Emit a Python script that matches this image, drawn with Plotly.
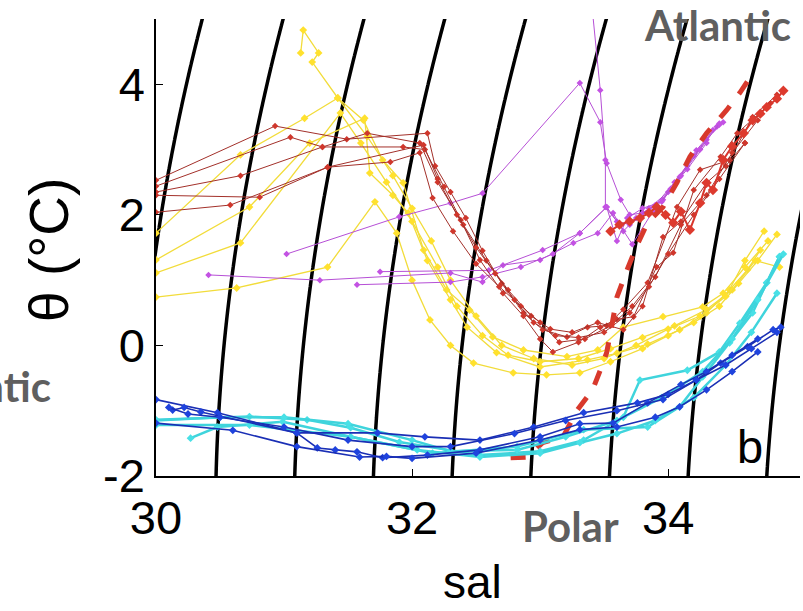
import numpy as np
import plotly.graph_objects as go

# ---------------- data ----------------
# dark red profiles (salinity, potential temperature)
RED1_S = [30.0, 30.93, 31.49, 32.12, 32.18, 32.3, 32.42, 32.55, 32.7, 32.87, 33.02, 33.21, 33.37, 33.52, 33.65, 33.84, 34.07, 34.25, 34.48, 34.66, 34.85]
RED1_T = [2.53, 3.36, 3.16, 3.25, 2.75, 2.35, 1.95, 1.45, 0.95, 0.5, 0.24, 0.13, 0.28, 0.3, 0.55, 0.96, 2.12, 2.69, 2.84, 3.5, 3.84]
RED2_S = [30.0, 31.05, 31.3, 31.65, 32.06, 32.2, 32.38, 32.53, 32.71, 32.87, 33.0, 33.1, 33.3, 33.47, 33.6, 33.73, 33.91, 34.04, 34.2, 34.41, 34.54, 34.8]
RED2_T = [2.44, 3.19, 3.04, 3.25, 3.1, 2.5, 1.92, 1.31, 0.8, 0.45, 0.1, -0.1, 0.05, 0.28, 0.4, 0.44, 1.2, 1.42, 2.38, 2.89, 3.25, 3.71]
RED3_S = [30.0, 30.66, 31.3, 31.93, 32.1, 32.25, 32.4, 32.58, 32.75, 32.93, 33.08, 33.25, 33.45, 33.65, 33.8, 33.96, 34.1, 34.3, 34.45, 34.6]
RED3_T = [2.35, 2.6, 3.04, 3.04, 3.0, 2.43, 1.85, 1.3, 0.85, 0.45, 0.25, 0.2, 0.35, 0.24, 0.6, 1.66, 1.9, 2.49, 2.75, 3.1]
RED4_S = [30.0, 30.81, 31.34, 31.83, 32.06, 32.16, 32.32, 32.5, 32.68, 32.85, 33.0, 33.15, 33.35, 33.55, 33.72, 33.9, 34.1, 34.3, 34.5, 34.7]
RED4_T = [2.3, 2.27, 2.73, 2.81, 2.95, 2.26, 1.75, 1.25, 0.9, 0.6, 0.35, 0.05, 0.1, 0.3, 0.6, 1.05, 1.85, 2.3, 2.95, 3.45]
RED5_S = [30.0, 30.58, 31.34, 32.09, 32.2, 32.35, 32.5, 32.65, 32.8, 32.95, 33.12, 33.3, 33.5, 33.7, 33.85, 34.0, 34.2, 34.4, 34.6]
RED5_T = [2.04, 2.15, 2.73, 3.07, 2.55, 2.0, 1.5, 1.1, 0.7, 0.35, 0.15, 0.12, 0.2, 0.5, 0.9, 1.4, 2.0, 2.55, 3.1]
# bright red dense profile (right branch)
REDB_S = [33.55, 33.62, 33.7, 33.78, 33.85, 33.91, 33.98, 34.04, 34.1, 34.17, 34.25, 34.3, 34.35, 34.43, 34.5, 34.59, 34.66, 34.72, 34.77, 34.85, 34.9]
REDB_T = [1.75, 1.85, 1.9, 1.95, 2.03, 2.12, 2.0, 1.88, 2.05, 1.77, 2.18, 2.49, 2.38, 2.84, 3.05, 3.25, 3.45, 3.55, 3.65, 3.78, 3.9]
# bright red dashed profile
REDD_S = [32.77, 32.9, 33.02, 33.18, 33.29, 33.41, 33.47, 33.52, 33.56, 33.6, 33.68, 33.76, 33.84, 33.96, 34.07, 34.17, 34.3, 34.46, 34.56, 34.68]
REDD_T = [-1.72, -1.71, -1.49, -1.4, -0.99, -0.68, -0.38, -0.11, 0.3, 0.74, 1.16, 1.55, 1.88, 2.12, 2.5, 2.89, 3.25, 3.61, 3.87, 4.22]

# yellow profiles
YEL1_S = [30.0, 30.66, 31.16, 31.42, 31.62, 31.77, 31.93, 32.09, 32.27, 32.45, 32.63, 32.87, 33.21, 33.45, 33.65, 33.96, 34.27, 34.43, 34.6, 34.78]
YEL1_T = [1.72, 2.92, 3.48, 3.79, 3.45, 2.84, 2.49, 1.46, 0.85, 0.54, 0.13, -0.07, -0.17, -0.07, 0.28, 0.44, 0.59, 0.8, 1.2, 1.6]
YEL2_S = [30.0, 30.73, 31.2, 31.63, 31.67, 31.85, 31.97, 32.12, 32.3, 32.43, 32.66, 33.0, 33.37, 33.6, 33.84, 34.09, 34.3, 34.48, 34.62, 34.72]
YEL2_T = [1.31, 2.12, 3.1, 3.48, 2.64, 2.3, 2.03, 1.3, 0.7, 0.28, -0.11, -0.33, -0.22, -0.12, 0.02, 0.24, 0.5, 0.85, 1.16, 1.46]
YEL3_S = [30.0, 30.66, 31.44, 31.6, 31.8, 32.0, 32.2, 32.35, 32.55, 32.75, 33.0, 33.3, 33.55, 33.8, 34.05, 34.3, 34.5, 34.68, 34.87]
YEL3_T = [1.11, 1.57, 3.56, 3.1, 2.5, 1.9, 1.2, 0.6, 0.15, -0.15, -0.25, -0.2, -0.05, 0.12, 0.3, 0.55, 0.85, 1.3, 1.2]
YEL4_S = [30.0, 30.63, 31.34, 31.71, 31.88, 32.0, 32.14, 32.3, 32.48, 32.79, 33.05, 33.31, 33.55, 33.8, 34.0, 34.2, 34.4, 34.55, 34.7, 34.85]
YEL4_T = [0.74, 0.88, 1.2, 2.2, 1.72, 1.0, 0.39, 0.0, -0.27, -0.42, -0.45, -0.42, -0.25, -0.05, 0.15, 0.35, 0.6, 0.95, 1.3, 1.7]
YEL5_S = [31.13, 31.15, 31.27, 31.22, 31.42, 31.65, 31.85, 32.0, 32.15, 32.3, 32.5, 32.7, 32.95, 33.25, 33.5, 33.75, 34.0, 34.25, 34.45, 34.6, 34.75]
YEL5_T = [4.48, 4.83, 4.48, 4.34, 3.79, 3.2, 2.6, 2.1, 1.6, 1.0, 0.45, 0.0, -0.2, -0.3, -0.2, 0.0, 0.25, 0.45, 0.75, 1.3, 1.75]

# magenta profiles
MAG1_S = [31.02, 31.9, 32.3, 32.55, 33.31, 33.47, 33.52, 33.63, 33.7, 33.8, 33.96, 34.09, 34.22, 34.38, 34.43]
MAG1_T = [1.40, 1.97, 2.18, 2.33, 4.02, 3.42, 2.79, 2.23, 2.0, 2.03, 2.23, 2.58, 2.99, 3.35, 3.42]
MAG2_S = [33.41, 33.47, 33.51, 33.51, 33.6, 33.7, 33.85, 34.0, 34.15, 34.3, 34.4]
MAG2_T = [5.1, 3.91, 2.84, 2.12, 1.9, 1.85, 2.1, 2.35, 2.75, 3.15, 3.38]
MAG3_S = [30.41, 31.28, 32.3, 32.55, 32.71, 33.0, 33.26, 33.45, 33.57, 33.65, 33.75, 33.9, 34.05, 34.2, 34.35]
MAG3_T = [1.08, 1.0, 1.11, 0.97, 1.23, 1.31, 1.57, 1.72, 2.03, 1.75, 1.95, 2.15, 2.5, 2.9, 3.3]
MAG4_S = [31.57, 32.3, 32.55, 32.85, 33.1, 33.31, 33.52, 33.62, 33.72, 33.88, 34.02, 34.15, 34.3]
MAG4_T = [0.93, 0.97, 1.05, 1.2, 1.4, 1.72, 2.12, 1.85, 1.55, 2.05, 2.4, 2.7, 3.1]
MAG5_S = [31.75, 32.6, 33.02, 33.31, 33.52, 33.6, 33.68, 33.8, 33.95, 34.1, 34.25, 34.4]
MAG5_T = [1.13, 1.15, 1.46, 1.72, 2.12, 1.6, 1.95, 2.1, 2.2, 2.6, 3.0, 3.4]

# blue profiles
BLU1_S = [30.0, 30.48, 31.1, 31.73, 32.1, 32.53, 32.95, 33.34, 33.76, 34.0, 34.22, 34.41, 34.62, 34.82, 34.88]
BLU1_T = [-0.83, -1.03, -1.34, -1.34, -1.4, -1.45, -1.25, -1.03, -0.88, -0.75, -0.53, -0.27, -0.02, 0.24, 0.28]
BLU2_S = [30.13, 30.22, 30.35, 31.1, 31.26, 31.4, 31.57, 31.77, 32.12, 32.53, 33.0, 33.31, 33.57, 33.84, 34.1, 34.3, 34.5, 34.7]
BLU2_T = [-0.99, -0.95, -1.02, -1.34, -1.57, -1.6, -1.63, -1.72, -1.68, -1.6, -1.4, -1.2, -1.19, -0.88, -0.6, -0.4, -0.15, 0.1]
BLU3_S = [30.0, 30.6, 31.1, 31.59, 31.8, 32.0, 32.5, 33.0, 33.31, 33.6, 33.9, 34.09, 34.3, 34.5, 34.7]
BLU3_T = [-1.19, -1.3, -1.55, -1.71, -1.7, -1.73, -1.65, -1.45, -1.29, -1.25, -1.1, -0.94, -0.68, -0.4, -0.1]
BLU4_S = [30.1, 30.25, 30.5, 31.0, 31.5, 32.0, 32.3, 32.8, 33.2, 33.6, 33.96, 34.22, 34.45, 34.65, 34.85]
BLU4_T = [-0.95, -1.05, -1.1, -1.25, -1.45, -1.55, -1.55, -1.35, -1.15, -1.0, -0.83, -0.53, -0.3, -0.05, 0.2]

# cyan profiles
CYA1_S = [30.0, 30.73, 31.18, 31.52, 31.9, 32.53, 33.0, 33.34, 33.65, 33.78, 34.15, 34.4, 34.56, 34.77, 34.87]
CYA1_T = [-1.14, -1.09, -1.14, -1.26, -1.48, -1.68, -1.62, -1.45, -1.1, -0.53, -0.38, -0.1, 0.34, 0.96, 1.36]
CYA2_S = [30.27, 30.48, 30.99, 31.52, 32.16, 32.82, 33.34, 33.84, 34.09, 34.27, 34.48, 34.66, 34.77, 34.87]
CYA2_T = [-1.42, -1.25, -1.17, -1.4, -1.65, -1.55, -1.29, -1.25, -0.94, -0.48, 0.04, 0.5, 0.96, 1.36]
CYA3_S = [30.0, 30.73, 31.52, 32.04, 32.53, 33.0, 33.31, 33.6, 33.9, 34.2, 34.45, 34.65, 34.85]
CYA3_T = [-1.22, -1.22, -1.4, -1.6, -1.71, -1.65, -1.49, -1.35, -1.15, -0.8, -0.3, 0.2, 0.8]
CYA4_S = [30.0, 30.5, 31.0, 31.5, 32.0, 32.3, 32.82, 33.2, 33.6, 33.95, 34.27, 34.5, 34.7, 34.9]
CYA4_T = [-1.15, -1.1, -1.1, -1.2, -1.45, -1.62, -1.6, -1.4, -1.15, -0.8, -0.4, 0.1, 0.7, 1.4]

X_TICKS = [30, 32, 34]
Y_TICKS = [-2, 0, 2, 4]
SIGMA_LEVELS = dict(start=24.0, end=29.0, size=0.5)

# ---------------- density field (UNESCO EOS-80, p = 0) ----------------
s_grid = np.linspace(29.5, 35.5, 241)
t_grid = np.linspace(-2.5, 5.5, 161)
S, T = np.meshgrid(s_grid, t_grid)
rho_w = (999.842594 + 6.793952e-2 * T - 9.095290e-3 * T**2 + 1.001685e-4 * T**3
         - 1.120083e-6 * T**4 + 6.536332e-9 * T**5)
A = 0.824493 - 4.0899e-3 * T + 7.6438e-5 * T**2 - 8.2467e-7 * T**3 + 5.3875e-9 * T**4
B = -5.72466e-3 + 1.0227e-4 * T - 1.6546e-6 * T**2
sigma = rho_w + A * S + B * S**1.5 + 4.8314e-4 * S**2 - 1000.0

fig = go.Figure()
fig.add_trace(go.Contour(
    x=s_grid, y=t_grid, z=sigma,
    contours=dict(coloring="lines", showlabels=False, **SIGMA_LEVELS),
    colorscale=[[0, "black"], [1, "black"]], showscale=False,
    line=dict(width=3.5), hoverinfo="skip"))

def add(sal, th, line_color, marker_color, width=1.0, msize=5, dash="solid", markers=True):
    fig.add_trace(go.Scatter(
        x=sal, y=th, mode="lines+markers" if markers else "lines",
        line=dict(color=line_color, width=width, dash=dash),
        marker=dict(symbol="diamond", size=msize, color=marker_color),
        showlegend=False))

YL, YM = "#f2dc3a", "#ffe12e"
for s_, t_ in [(YEL1_S, YEL1_T), (YEL2_S, YEL2_T), (YEL3_S, YEL3_T), (YEL4_S, YEL4_T), (YEL5_S, YEL5_T)]:
    add(s_, t_, YL, YM, width=1.3, msize=6)

ML, MM = "#b64fd6", "#c352e3"
for s_, t_ in [(MAG1_S, MAG1_T), (MAG2_S, MAG2_T), (MAG3_S, MAG3_T), (MAG4_S, MAG4_T), (MAG5_S, MAG5_T)]:
    add(s_, t_, ML, MM)

RL, RM = "#a3302a", "#cf372c"
for s_, t_ in [(RED1_S, RED1_T), (RED2_S, RED2_T), (RED3_S, RED3_T), (RED4_S, RED4_T), (RED5_S, RED5_T)]:
    add(s_, t_, RL, RM)
add(REDB_S, REDB_T, "#d8362c", "#dd3a2e", width=2, msize=8)
add(REDD_S, REDD_T, "#d8392c", "#d8392c", width=5, dash="dash", markers=False)

CL, CM = "#3fd4dc", "#48e0e6"
for s_, t_ in [(CYA1_S, CYA1_T), (CYA2_S, CYA2_T), (CYA3_S, CYA3_T), (CYA4_S, CYA4_T)]:
    add(s_, t_, CL, CM, width=2.5, msize=6)

BL, BM = "#1a2fb5", "#1f43dd"
for s_, t_ in [(BLU1_S, BLU1_T), (BLU2_S, BLU2_T), (BLU3_S, BLU3_T), (BLU4_S, BLU4_T)]:
    add(s_, t_, BL, BM, width=1.6, msize=6)

tick_font = dict(family="Liberation Sans, Arial, sans-serif", size=47, color="black")
label_font = dict(family="Lato, sans-serif", size=42, color="#5f5f5f", weight="bold")

fig.update_layout(
    width=803, height=611,
    margin=dict(l=156, r=3, t=19, b=135),
    paper_bgcolor="white", plot_bgcolor="white",
    showlegend=False,
    xaxis=dict(range=[30, 35.03], tickvals=X_TICKS, ticktext=[str(v) for v in X_TICKS],
               ticks="inside", ticklen=7, tickcolor="black", showline=True, linecolor="black",
               linewidth=1.5, showgrid=False, zeroline=False, tickfont=tick_font,
               ticklabelstandoff=0, mirror=False),
    yaxis=dict(range=[-2, 5], tickvals=Y_TICKS, ticktext=[str(v) for v in Y_TICKS],
               ticks="inside", ticklen=7, tickcolor="black", showline=True, linecolor="black",
               linewidth=1.5, showgrid=False, zeroline=False, tickfont=tick_font,
               ticklabelstandoff=0, mirror=False),
    annotations=[
        dict(text="sal", xref="paper", yref="paper", x=0.491, y=-0.232, showarrow=False,
             font=dict(family="Liberation Sans, Arial, sans-serif", size=46, color="black"),
             xanchor="center", yanchor="middle", borderpad=0),
        dict(text="θ (°C)", xref="paper", yref="paper", x=-0.165, y=0.494, showarrow=False,
             textangle=-90, font=dict(family="Liberation Sans, Arial, sans-serif", size=55, color="black"),
             xanchor="center", yanchor="middle"),
        dict(text="b", xref="x", yref="y", x=34.64, y=-1.55, showarrow=False,
             font=dict(family="Liberation Sans, Arial, sans-serif", size=47, color="black"),
             xanchor="center", yanchor="middle"),
        dict(text="Atlantic", xref="paper", yref="paper", x=0.872, y=0.986, showarrow=False,
             font=label_font, xanchor="center", yanchor="middle"),
        dict(text="Polar", xref="paper", yref="paper", x=0.644, y=-0.11, showarrow=False,
             font=label_font, xanchor="center", yanchor="middle"),
        dict(text="Atlantic", xref="paper", yref="paper", x=-0.16, y=0.197, showarrow=False,
             font=label_font, xanchor="right", yanchor="middle"),
    ],
)

fig.write_html("out.html")
